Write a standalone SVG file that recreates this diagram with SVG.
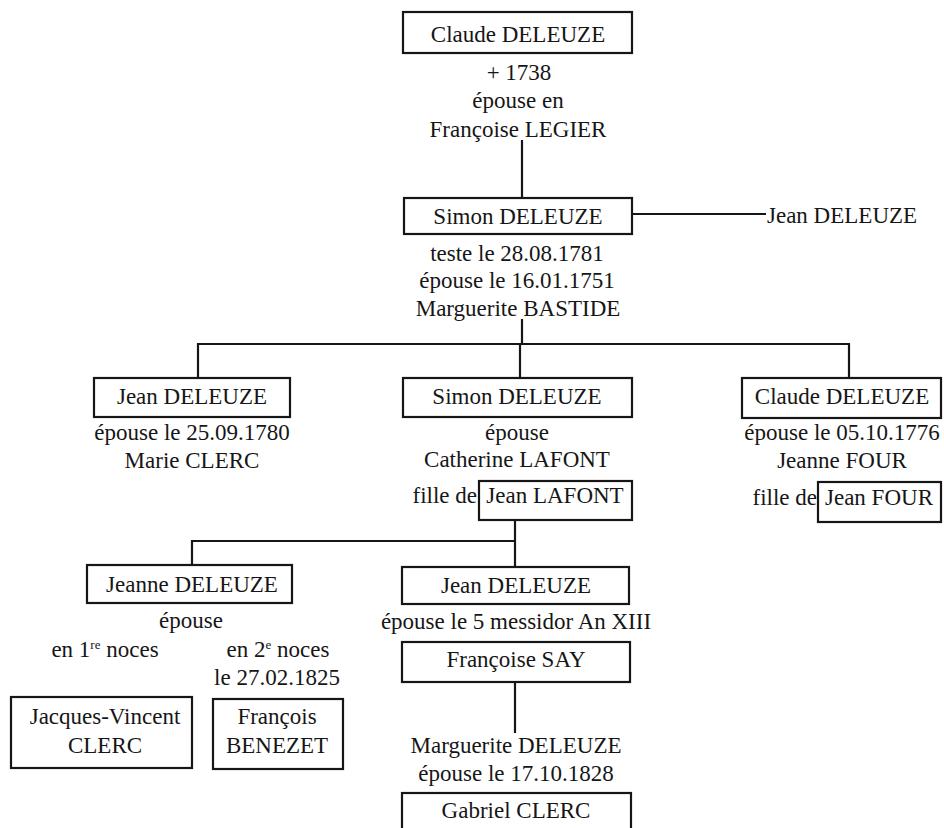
<svg xmlns="http://www.w3.org/2000/svg" width="944" height="828" viewBox="0 0 944 828">
<style>
  text { font-family: "Liberation Serif", "Times New Roman", serif; font-size: 23px; fill: #161616; }
  .c { text-anchor: middle; }
  .e { text-anchor: end; }
  .box { fill: none; stroke: #161616; stroke-width: 2.2; }
  .ln { fill: none; stroke: #161616; stroke-width: 2.2; }
  .sup { font-size: 13px; }
</style>
<rect x="0" y="0" width="944" height="828" fill="#ffffff"/>

<g id="connectors">
  <line class="ln" x1="522" y1="140" x2="522" y2="198"/>
  <line class="ln" x1="632" y1="214" x2="766" y2="214"/>
  <line class="ln" x1="522" y1="319" x2="522" y2="344"/>
  <polyline class="ln" points="198,378 198,344 849,344 849,378"/>
  <line class="ln" x1="520" y1="344" x2="520" y2="378"/>
  <line class="ln" x1="515" y1="520" x2="515" y2="567"/>
  <polyline class="ln" points="192,565 192,541 515,541"/>
  <line class="ln" x1="515" y1="682" x2="515" y2="733"/>
</g>

<g id="claude-1738">
  <rect class="box" x="403" y="12" width="229" height="41"/>
  <text class="c" x="518" y="42">Claude DELEUZE</text>
  <text class="c" x="519" y="80">+ 1738</text>
  <text class="c" x="518" y="108">épouse en</text>
  <text class="c" x="518" y="137">Françoise LEGIER</text>
</g>

<g id="simon-1781">
  <rect class="box" x="404" y="198" width="228" height="36"/>
  <text class="c" x="518" y="224">Simon DELEUZE</text>
  <text class="c" x="517" y="261">teste le 28.08.1781</text>
  <text class="c" x="517" y="288">épouse le 16.01.1751</text>
  <text class="c" x="518" y="316">Marguerite BASTIDE</text>
</g>

<g id="jean-brother">
  <text x="767" y="223">Jean DELEUZE</text>
</g>

<g id="jean-1780">
  <rect class="box" x="94" y="378" width="196" height="39"/>
  <text class="c" x="192" y="404">Jean DELEUZE</text>
  <text class="c" x="192" y="440">épouse le 25.09.1780</text>
  <text class="c" x="192" y="468">Marie CLERC</text>
</g>

<g id="simon-lafont">
  <rect class="box" x="403" y="378" width="229" height="39"/>
  <text class="c" x="517" y="404">Simon DELEUZE</text>
  <text class="c" x="517" y="440">épouse</text>
  <text class="c" x="517" y="467">Catherine LAFONT</text>
  <text class="e" x="477" y="503">fille de</text>
</g>

<g id="jean-lafont">
  <rect class="box" x="479" y="481" width="153" height="39"/>
  <text class="c" x="555" y="503">Jean LAFONT</text>
</g>

<g id="claude-1776">
  <rect class="box" x="742" y="378" width="199" height="40"/>
  <text class="c" x="842" y="404">Claude DELEUZE</text>
  <text class="c" x="842" y="440">épouse le 05.10.1776</text>
  <text class="c" x="842" y="468">Jeanne FOUR</text>
  <text class="e" x="817" y="505">fille de</text>
</g>

<g id="jean-four">
  <rect class="box" x="818" y="482" width="123" height="40"/>
  <text class="c" x="879" y="505">Jean FOUR</text>
</g>

<g id="jeanne">
  <rect class="box" x="87" y="565" width="205" height="38"/>
  <text class="c" x="192" y="592">Jeanne DELEUZE</text>
  <text class="c" x="191" y="628">épouse</text>
  <text class="c" x="105" y="657">en 1<tspan class="sup" dy="-8">re</tspan><tspan dy="8"> noces</tspan></text>
  <text class="c" x="278" y="657">en 2<tspan class="sup" dy="-8">e</tspan><tspan dy="8"> noces</tspan></text>
  <text class="c" x="277" y="685">le 27.02.1825</text>
</g>

<g id="jacques-vincent">
  <rect class="box" x="11" y="697" width="181" height="71"/>
  <text class="c" x="105" y="724">Jacques-Vincent</text>
  <text class="c" x="105" y="753">CLERC</text>
</g>

<g id="francois">
  <rect class="box" x="213" y="699" width="130" height="70"/>
  <text class="c" x="277" y="724">François</text>
  <text class="c" x="277" y="753">BENEZET</text>
</g>

<g id="jean-say">
  <rect class="box" x="402" y="567" width="227" height="37"/>
  <text class="c" x="516" y="593">Jean DELEUZE</text>
  <text class="c" x="516" y="629">épouse le 5 messidor An XIII</text>
</g>

<g id="francoise-say">
  <rect class="box" x="402" y="642" width="228" height="40"/>
  <text class="c" x="516" y="667">Françoise SAY</text>
</g>

<g id="marguerite">
  <text class="c" x="516" y="753">Marguerite DELEUZE</text>
  <text class="c" x="516" y="781">épouse le 17.10.1828</text>
</g>

<g id="gabriel">
  <rect class="box" x="402" y="793" width="229" height="50"/>
  <text class="c" x="516" y="818">Gabriel CLERC</text>
</g>
</svg>
